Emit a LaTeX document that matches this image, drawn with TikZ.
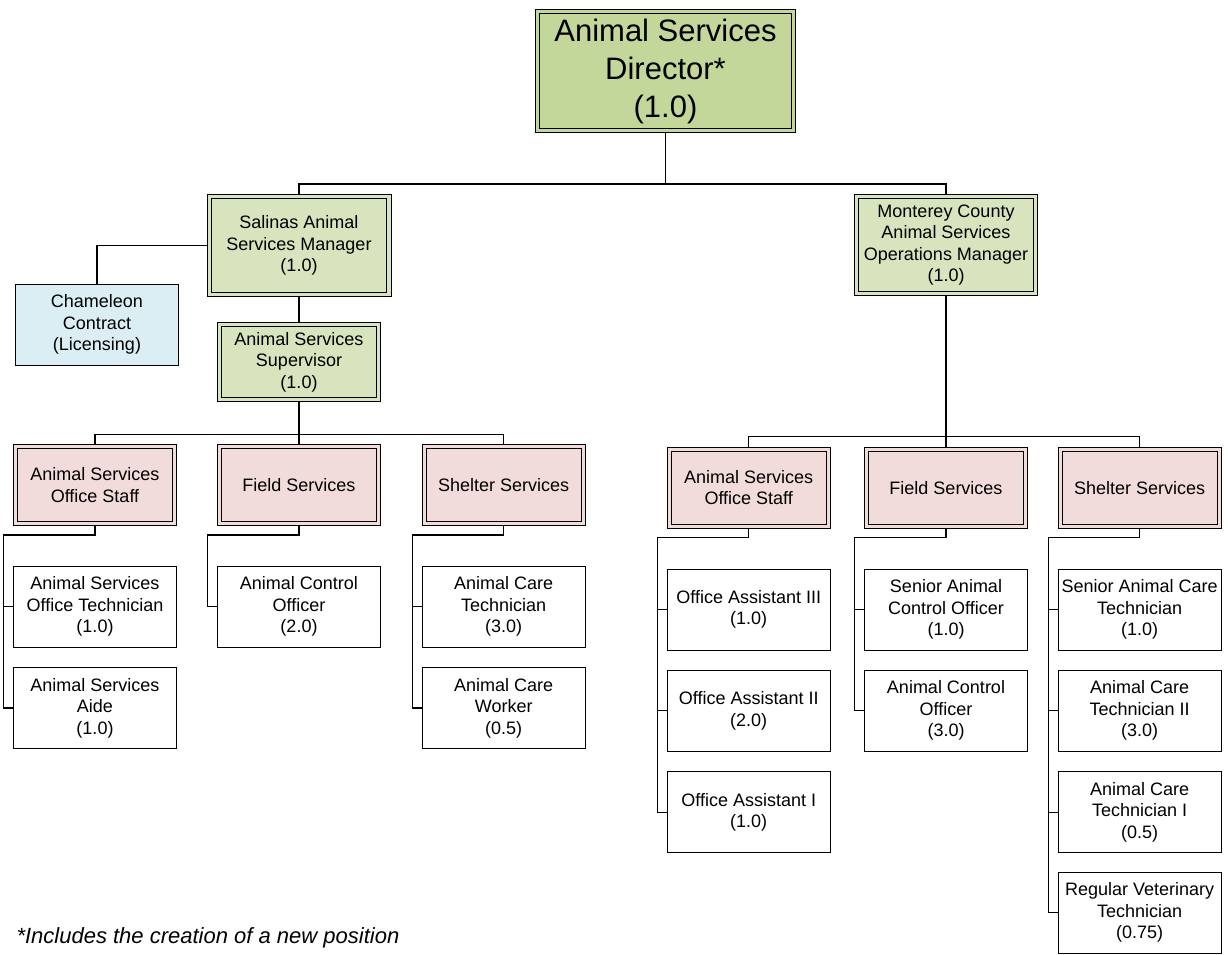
\documentclass[tikz,border=0pt]{standalone}
\usepackage{fontspec}
\setmainfont{Liberation Sans}
\usepackage{tikz}
\usetikzlibrary{calc}
\definecolor{dirgreen}{RGB}{196,215,155}
\definecolor{mgrgreen}{RGB}{215,228,189}
\definecolor{unitpink}{RGB}{242,220,219}
\definecolor{contblue}{RGB}{218,238,243}
\tikzset{
  box/.style={draw, line width=1pt, fill=white, align=center, inner sep=1pt,
    minimum width=163pt, minimum height=81pt, font=\fontsize{18}{21.5}\selectfont},
  dbox/.style={box, fill=#1, double=#1, double distance=3.2pt, outer sep=2.6pt},
  link/.style={line width=1.3pt}
}

\begin{document}
\begin{tikzpicture}[x=1pt, y=-1pt]
\useasboundingbox (0,0) rectangle (1228,954);
% top of the chart
\node[dbox=dirgreen, minimum width=255.8pt, minimum height=118.8pt,
  font=\fontsize{31}{38}\selectfont] (dir) at (665.5,71) {Animal Services\\Director*\\(1.0)};
\node[dbox=mgrgreen, minimum width=179.8pt, minimum height=97.8pt] (sam) at (299,245.5)
  {Salinas Animal\\Services Manager\\(1.0)};
\node[dbox=mgrgreen, minimum width=178.8pt, minimum height=96.8pt] (mom) at (946,245)
  {Monterey County\\Animal Services\\Operations Manager\\(1.0)};
\node[box, fill=contblue] (cham) at (97,324.5) {Chameleon\\Contract\\(Licensing)};
\node[dbox=mgrgreen, minimum width=158.8pt, minimum height=74.8pt] (asup) at (299,362)
  {Animal Services\\Supervisor\\(1.0)};
% Salinas units
\node[dbox=unitpink, minimum width=158.8pt, minimum height=76.8pt] (los) at (95,485)
  {Animal Services\\Office Staff};
\node[dbox=unitpink, minimum width=158.8pt, minimum height=76.8pt] (lfs) at (299,485)
  {Field Services};
\node[dbox=unitpink, minimum width=158.8pt, minimum height=76.8pt] (lss) at (503.7,485)
  {Shelter Services};
\node[box] (lot) at (95,606.7) {Animal Services\\Office Technician\\(1.0)};
\node[box] (lai) at (95,708) {Animal Services\\Aide\\(1.0)};
\node[box] (laco) at (299,606.7) {Animal Control\\Officer\\(2.0)};
\node[box] (lact) at (503.7,606.7) {Animal Care\\Technician\\(3.0)};
\node[box] (lacw) at (503.7,708) {Animal Care\\Worker\\(0.5)};
% Monterey County units
\node[dbox=unitpink, minimum width=158.8pt, minimum height=76.8pt] (ros) at (748.7,487.7)
  {Animal Services\\Office Staff};
\node[dbox=unitpink, minimum width=158.8pt, minimum height=76.8pt] (rfs) at (946,487.7)
  {Field Services};
\node[dbox=unitpink, minimum width=158.8pt, minimum height=76.8pt] (rss) at (1139.7,487.7)
  {Shelter Services};
\node[box] (roa3) at (748.7,609.5) {Office Assistant III\\(1.0)};
\node[box] (roa2) at (748.7,710.8) {Office Assistant II\\(2.0)};
\node[box] (roa1) at (748.7,812.2) {Office Assistant I\\(1.0)};
\node[box] (rsaco) at (946,609.5) {Senior Animal\\Control Officer\\(1.0)};
\node[box] (raco) at (946,710.8) {Animal Control\\Officer\\(3.0)};
\node[box] (rsact) at (1139.7,609.5) {Senior Animal Care\\Technician\\(1.0)};
\node[box] (ract2) at (1139.7,710.8) {Animal Care\\Technician II\\(3.0)};
\node[box] (ract1) at (1139.7,812.2) {Animal Care\\Technician I\\(0.5)};
\node[box] (rrvt) at (1139.7,912.5) {Regular Veterinary\\Technician\\(0.75)};
\node[anchor=base west, font=\fontsize{22}{26}\selectfont\itshape] (note) at (13,943)
  {*Includes the creation of a new position};
% connectors
\draw[link] (dir.south) -- ++(0,51) -| (sam.north);
\draw[link] (dir.south) -- ++(0,51) -| (mom.north);
\draw[link] (sam.west) -| (cham.north);
\draw[link] (sam.south) -- (asup.north);
\draw[link] (asup.south) -- ++(0,32.7) -| (los.north);
\draw[link] (asup.south) -- ++(0,32.7) -| (lss.north);
\draw[link] (asup.south) -- (lfs.north);
\draw[link] (mom.south) -- ++(0,140.7) -| (ros.north);
\draw[link] (mom.south) -- ++(0,140.7) -| (rss.north);
\draw[link] (mom.south) -- (rfs.north);
% child lists
\draw[link] (los.south) -- ++(0,9) -| ([xshift=-9.5pt]lai.west) -- (lai.west);
\draw[link] ([xshift=-9.5pt]lot.west) -- (lot.west);
\draw[link] (lfs.south) -- ++(0,9) -| ([xshift=-9.5pt]laco.west) -- (laco.west);
\draw[link] (lss.south) -- ++(0,9) -| ([xshift=-9.5pt]lacw.west) -- (lacw.west);
\draw[link] ([xshift=-9.5pt]lact.west) -- (lact.west);
\draw[link] (ros.south) -- ++(0,8.6) -| ([xshift=-9.5pt]roa1.west) -- (roa1.west);
\foreach \n in {roa3,roa2}
  \draw[link] ([xshift=-9.5pt]\n.west) -- (\n.west);
\draw[link] (rfs.south) -- ++(0,8.6) -| ([xshift=-9.5pt]raco.west) -- (raco.west);
\draw[link] ([xshift=-9.5pt]rsaco.west) -- (rsaco.west);
\draw[link] (rss.south) -- ++(0,8.6) -| ([xshift=-9.5pt]rrvt.west) -- (rrvt.west);
\foreach \n in {rsact,ract2,ract1}
  \draw[link] ([xshift=-9.5pt]\n.west) -- (\n.west);
\end{tikzpicture}
\end{document}
